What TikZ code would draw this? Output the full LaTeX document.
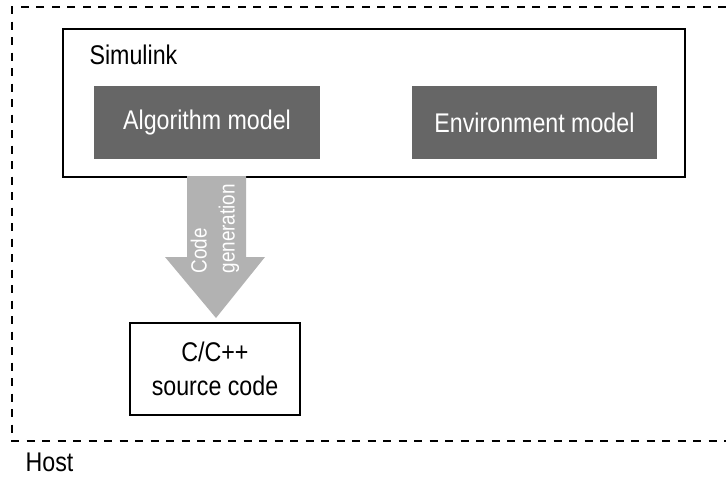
\documentclass[tikz,border=0pt]{standalone}
\usepackage{fontspec}
\setmainfont[FakeStretch=0.86]{Liberation Sans}
\begin{document}
\begin{tikzpicture}
  [x=1pt,y=-1pt,line width=1.2pt,
   box/.style={draw,rectangle,inner sep=0pt},
   model/.style={rectangle,fill=black!60,text=white,inner sep=0pt,
     minimum height=73pt,font=\fontsize{27}{32}\selectfont},
   label/.style={anchor=west,inner sep=0pt,font=\fontsize{27}{32}\selectfont}]
  \useasboundingbox (0,0) rectangle (726,480);
  \draw[dash pattern=on 8pt off 7.5pt] (726,7) -| (12,441) -- (726,441);
  \node[label] (host) at (25,462) {Host};

  \node[box,minimum width=622pt,minimum height=148pt] (sim) at (374,103) {};
  \node[label] (simlabel) at (89,55) {Simulink};
  \node[model,minimum width=226pt] (alg) at (207,122.5) {Algorithm model};
  \node[model,minimum width=245pt] (env) at (534.5,122.5) {Environment model};

  \node[box,minimum width=170pt,minimum height=92pt,align=center,
    font=\fontsize{27}{34}\selectfont] (src) at (215,369) {C/C++\\source code};

  % code generation arrow
  \fill[black!30] (187,176) -- (246,176) -- (246,257) -- (265,257)
    -- (216,318) -- (165,257) -- (187,257) -- cycle;
  \node[rotate=90,anchor=west,align=left,text=white,inner sep=0pt,
    font=\fontsize{22}{28}\selectfont] (gen) at (215,274) {Code\\generation};
\end{tikzpicture}
\end{document}
